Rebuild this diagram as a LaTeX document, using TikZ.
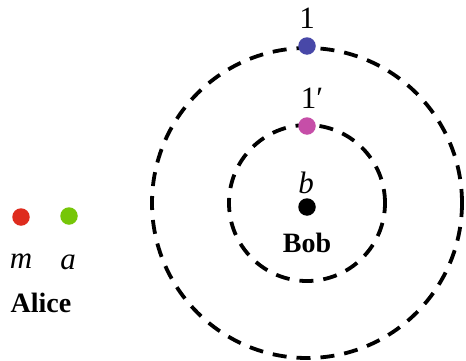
\documentclass[tikz,border=0pt]{standalone}
\usepackage{fontspec}
\setmainfont{Liberation Serif}
\usepackage{tikz}

\definecolor{dotred}{RGB}{222,44,30}
\definecolor{dotgreen}{RGB}{118,198,8}
\definecolor{dotblue}{RGB}{72,72,168}
\definecolor{dotmagenta}{RGB}{198,78,168}

\tikzset{
    dot/.style={circle, fill=#1, inner sep=0pt, minimum size=17.5pt},
    orbit/.style={draw=black, line width=3.8pt, dash pattern=on 14pt off 10pt},
    lbl/.style={inner sep=0pt, font=\fontsize{31}{31}\selectfont},
    partyname/.style={inner sep=0pt, font=\fontsize{28}{28}\selectfont\bfseries}
}

\begin{document}
\begin{tikzpicture}[x=1pt, y=1pt]
    \useasboundingbox (0,0) rectangle (466,360);

    % Orbits round Bob
    \coordinate (centre) at ({307}, {157});
    \draw[orbit] (centre) circle (155);
    \draw[orbit] (centre) circle (78);

    % Bob
    \node[dot=black] (b) at ({307}, {153}) {};
    \node[lbl] (blbl) at ({306}, {177}) {\textit{b}};
    \node[partyname] (bob) at ({307}, {117}) {Bob};

    % Points on the orbits
    \node[dot=dotblue] (p1) at ({307}, {314}) {};
    \node[lbl] (p1lbl) at ({307}, {342}) {1};
    \node[dot=dotmagenta] (p1p) at ({307}, {234}) {};
    \node[lbl] (p1plbl) at ({312}, {262}) {1′};

    % Alice
    \node[dot=dotred] (m) at ({21}, {143}) {};
    \node[dot=dotgreen] (a) at ({69}, {144}) {};
    \node[lbl] (mlbl) at ({21}, {99}) {\textit{m}};
    \node[lbl] (albl) at ({68}, {98}) {\textit{a}};
    \node[partyname] (alice) at ({41}, {57}) {Alice};
\end{tikzpicture}
\end{document}
